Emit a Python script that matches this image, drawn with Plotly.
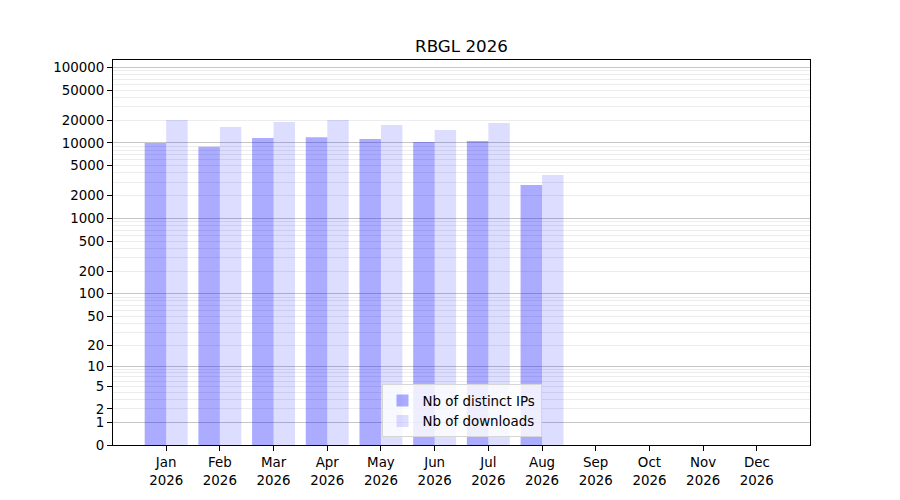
import numpy as np
import plotly.graph_objects as go

months = ["Jan", "Feb", "Mar", "Apr", "May", "Jun", "Jul", "Aug", "Sep", "Oct", "Nov", "Dec"]
year = "2026"
distinct_ips = [9950, 8900, 11600, 11900, 11250, 10250, 10600, 2770, 0, 0, 0, 0]
downloads = [20000, 16200, 18900, 20000, 17200, 14800, 18300, 3750, 0, 0, 0, 0]
ytick_values = [0, 1, 2, 5, 10, 20, 50, 100, 200, 500, 1000, 2000, 5000, 10000, 20000, 50000, 100000]
major_grid = [1, 10, 100, 1000, 10000, 100000]
minor_grid = [k * 10 ** d for d in range(0, 5) for k in range(2, 10)]


def tr(v):
    return np.log10(np.asarray(v, dtype=float) + 1)


xpos = list(range(len(months)))
ticktext = [f"{m}<br>{year}" for m in months]
font = "DejaVu Sans"
yrange = [0, 5.097]
fs = 13.4

fig = go.Figure()
fig.add_trace(go.Bar(
    x=xpos, y=tr(distinct_ips), width=0.4, offset=-0.4,
    marker=dict(color="rgba(0,0,255,0.33)", line=dict(width=0)),
    name="Nb of distinct IPs",
))
fig.add_trace(go.Bar(
    x=xpos, y=tr(downloads), width=0.4, offset=0.0,
    marker=dict(color="rgba(0,0,255,0.135)", line=dict(width=0)),
    name="Nb of downloads",
))
fig.add_trace(go.Scatter(x=[None], y=[None], yaxis="y2", showlegend=False, hoverinfo="skip"))

fig.update_layout(
    width=900, height=500,
    margin=dict(l=105, r=98, t=52, b=63, autoexpand=False),
    paper_bgcolor="white", plot_bgcolor="white",
    font=dict(family=font, size=fs, color="black"),
    barmode="overlay",
    title=dict(text="RBGL 2026", x=0.5, xref="paper", xanchor="center",
               y=1 - 38 / 500, yref="container", yanchor="middle",
               font=dict(family=font, size=16.7, color="black")),
    xaxis=dict(
        range=[-0.99, 11.99], tickmode="array", tickvals=xpos, ticktext=ticktext,
        showgrid=False, zeroline=False, showline=True, linecolor="black", linewidth=1,
        mirror=True, ticks="outside", ticklen=5, tickcolor="black", tickwidth=1,
        tickfont=dict(family=font, size=fs, color="black"), automargin=False,
    ),
    yaxis=dict(
        range=yrange, tickmode="array", tickvals=tr(ytick_values),
        ticktext=[str(v) for v in ytick_values],
        showgrid=False, zeroline=False, showline=True, linecolor="black", linewidth=1,
        mirror=True, ticks="outside", ticklen=5, tickcolor="black", tickwidth=1,
        tickfont=dict(family=font, size=fs, color="black"), automargin=False,
        minor=dict(tickmode="array", tickvals=tr(minor_grid), showgrid=True,
                   gridcolor="#ececec", gridwidth=1, ticks=""),
    ),
    yaxis2=dict(
        range=yrange, overlaying="y", side="left", tickmode="array",
        tickvals=tr(major_grid), showticklabels=False, ticks="",
        showgrid=True, gridcolor="#c6c6c6", gridwidth=1, zeroline=False, showline=False,
        automargin=False,
    ),
    legend=dict(
        x=0.5, xanchor="center", y=0.02, yanchor="bottom",
        bgcolor="rgba(255,255,255,0.8)", bordercolor="#d6d6d6", borderwidth=1,
        font=dict(family=font, size=fs, color="black"),
        traceorder="normal",
    ),
    showlegend=True,
)

fig.write_html("out.html")
